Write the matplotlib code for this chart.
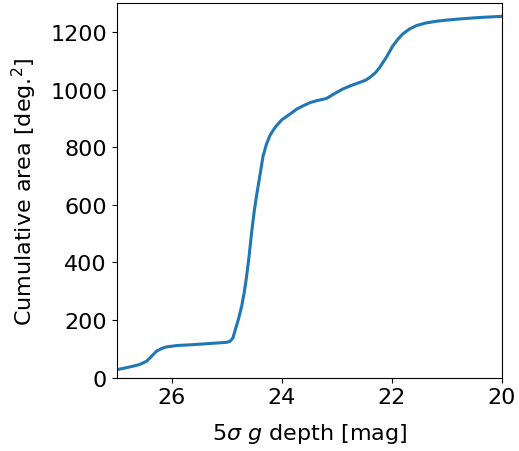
import matplotlib
matplotlib.use('Agg')
import matplotlib.pyplot as plt

# 5 sigma g depth [mag] and cumulative area [deg^2]
depth = [27.0, 26.8, 26.6, 26.46, 26.38, 26.28, 26.18, 26.1, 25.9, 25.61, 25.3,
         25.0, 24.94, 24.89, 24.84, 24.79, 24.73, 24.68, 24.64, 24.59, 24.55,
         24.5, 24.46, 24.4, 24.34, 24.28, 24.22, 24.16, 24.1, 24.0, 23.85,
         23.73, 23.61, 23.48, 23.37, 23.19, 23.05, 22.89, 22.74, 22.58, 22.48,
         22.4, 22.3, 22.22, 22.1, 21.98, 21.88, 21.8, 21.68, 21.55, 21.38,
         21.19, 21.0, 20.76, 20.4, 20.0]
area = [28, 36, 45, 57, 72, 92, 102, 107, 112, 115, 119,
        123, 127, 138, 170, 202, 248, 300, 352, 430, 503,
        580, 631, 700, 770, 810, 839, 858, 874, 895, 915,
        932, 944, 955, 961, 969, 985, 1002, 1014, 1025, 1032,
        1042, 1058, 1077, 1112, 1152, 1177, 1193, 1210, 1222, 1231,
        1237, 1241, 1245, 1250, 1254]

fig, ax = plt.subplots(figsize=(5.19, 4.52), dpi=100)
ax.plot(depth, area, color='tab:blue', lw=2.2)

ax.set_xlim(27, 20)
ax.set_ylim(0, 1300)
ax.set_xticks([26, 24, 22, 20])
ax.set_yticks([0, 200, 400, 600, 800, 1000, 1200])
ax.tick_params(labelsize=16)

ax.set_xlabel(r'5$\sigma$ $g$ depth [mag]', fontsize=16, labelpad=10)
ax.set_ylabel(r'Cumulative area [deg.$^2$]', fontsize=16, labelpad=8)

plt.subplots_adjust(left=0.225, right=0.967, top=0.991, bottom=0.162)
plt.savefig('out.png')
